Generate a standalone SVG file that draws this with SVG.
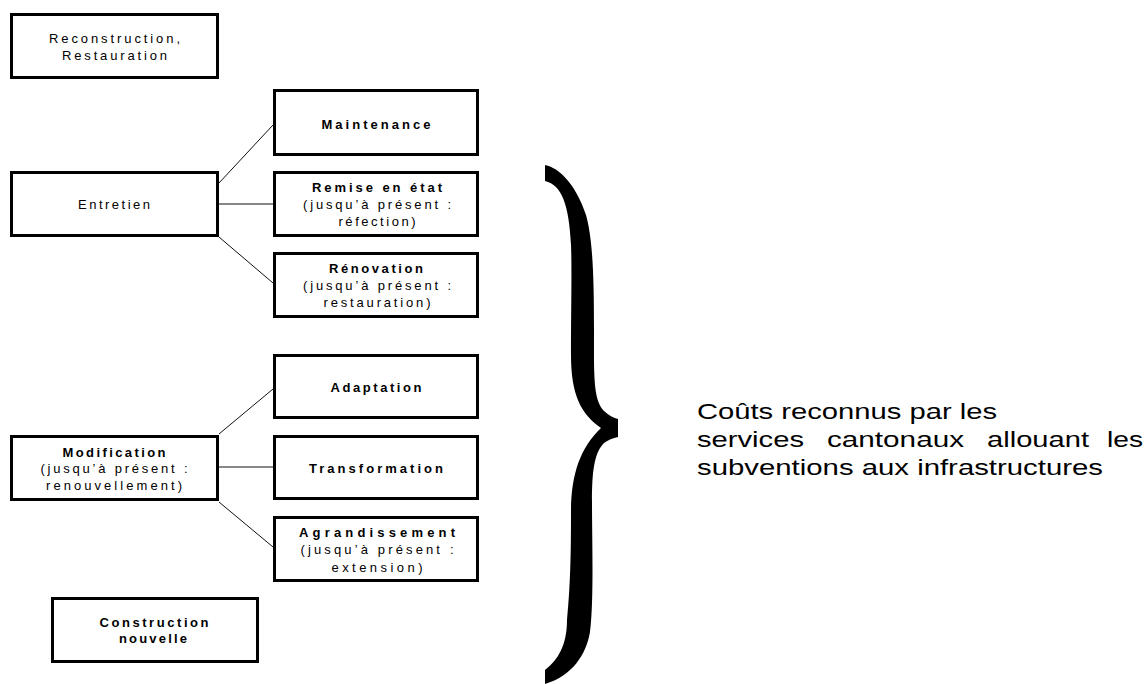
<svg xmlns="http://www.w3.org/2000/svg" width="1147" height="684" viewBox="0 0 1147 684">
<style>
.box{fill:#fff;stroke:#000;stroke-width:3}
.t{font-family:"Liberation Sans",Arial,sans-serif;font-size:13px;fill:#000;text-anchor:middle}
.b{font-weight:bold}
.con line{stroke:#111;stroke-width:1}
.big{font-family:"Liberation Sans",Arial,sans-serif;font-size:22px;fill:#000}
</style>
<rect width="1147" height="684" fill="#fff"/>
<g id="connectors" class="con">
<line x1="219" y1="183" x2="273" y2="125"/>
<line x1="219" y1="204" x2="273" y2="204"/>
<line x1="219" y1="237" x2="273" y2="283"/>
<line x1="219" y1="434" x2="273" y2="389"/>
<line x1="219" y1="467" x2="273" y2="467"/>
<line x1="219" y1="502" x2="273" y2="547"/>
</g>
<g id="reconstruction">
<rect class="box" x="11.5" y="14.5" width="206" height="63"/>
<text class="t" x="114.5" y="43" textLength="131" lengthAdjust="spacing">Reconstruction,</text>
<text class="t" x="114.5" y="60" textLength="105" lengthAdjust="spacing">Restauration</text>
</g>
<g id="maintenance">
<rect class="box" x="274.5" y="90.5" width="203" height="64"/>
<text class="t b" x="376" y="129" textLength="109" lengthAdjust="spacing">Maintenance</text>
</g>
<g id="entretien">
<rect class="box" x="11.5" y="172.5" width="206" height="63"/>
<text class="t" x="114" y="209" textLength="72" lengthAdjust="spacing">Entretien</text>
</g>
<g id="remise">
<rect class="box" x="274.5" y="172.5" width="203" height="63"/>
<text class="t b" x="377" y="192" textLength="130" lengthAdjust="spacing">Remise en état</text>
<text class="t" x="377" y="209" textLength="148" lengthAdjust="spacing">(jusqu’à présent :</text>
<text class="t" x="377" y="226" textLength="77" lengthAdjust="spacing">réfection)</text>
</g>
<g id="renovation">
<rect class="box" x="274.5" y="253.5" width="203" height="63"/>
<text class="t b" x="376" y="273" textLength="94" lengthAdjust="spacing">Rénovation</text>
<text class="t" x="377" y="290" textLength="148" lengthAdjust="spacing">(jusqu’à présent :</text>
<text class="t" x="377" y="307" textLength="107" lengthAdjust="spacing">restauration)</text>
</g>
<g id="adaptation">
<rect class="box" x="274.5" y="355.5" width="203" height="62"/>
<text class="t b" x="376" y="392" textLength="91" lengthAdjust="spacing">Adaptation</text>
</g>
<g id="modification">
<rect class="box" x="11.5" y="436.5" width="206" height="63"/>
<text class="t b" x="114" y="457" textLength="103" lengthAdjust="spacing">Modification</text>
<text class="t" x="114" y="473" textLength="147" lengthAdjust="spacing">(jusqu’à présent :</text>
<text class="t" x="114" y="490" textLength="136" lengthAdjust="spacing">renouvellement)</text>
</g>
<g id="transformation">
<rect class="box" x="274.5" y="436.5" width="203" height="62"/>
<text class="t b" x="376" y="473" textLength="134" lengthAdjust="spacing">Transformation</text>
</g>
<g id="agrandissement">
<rect class="box" x="274.5" y="517.5" width="203" height="63"/>
<text class="t b" x="377" y="537" textLength="156" lengthAdjust="spacing">Agrandissement</text>
<text class="t" x="377" y="554" textLength="153" lengthAdjust="spacing">(jusqu’à présent :</text>
<text class="t" x="377" y="572" textLength="91" lengthAdjust="spacing">extension)</text>
</g>
<g id="construction">
<rect class="box" x="52.5" y="598.5" width="205" height="63"/>
<text class="t b" x="154" y="627" textLength="109" lengthAdjust="spacing">Construction</text>
<text class="t b" x="153" y="643" textLength="68" lengthAdjust="spacing">nouvelle</text>
</g>
<g id="brace">
<path fill="#000" d="M545,165 C560,168 576,185 586,215 C593,240 594,280 594,330 C594,375 593,400 604,411 C608,415 614,418 618,419 L618,437 C613,438 608,440 604,443 C594,453 592,472 592,502 C592,540 594,600 590,632 C586,655 572,676 545,684 L545,670 C558,660 567,645 567,620 C571,580 571,540 571,512 C571,475 580,448 601,428 C581,414 571,395 571,355 C571,310 572,270 571,245 C569,205 562,185 545,181 Z"/>
</g>
<g id="label">
<text class="big" x="697" y="419" textLength="300" lengthAdjust="spacingAndGlyphs">Coûts reconnus par les</text>
<text class="big" x="697" y="447" textLength="107" lengthAdjust="spacingAndGlyphs">services</text>
<text class="big" x="827" y="447" textLength="137" lengthAdjust="spacingAndGlyphs">cantonaux</text>
<text class="big" x="987" y="447" textLength="102" lengthAdjust="spacingAndGlyphs">allouant</text>
<text class="big" x="1107" y="447" textLength="36" lengthAdjust="spacingAndGlyphs">les</text>
<text class="big" x="697" y="475" textLength="406" lengthAdjust="spacingAndGlyphs">subventions aux infrastructures</text>
</g>
</svg>
